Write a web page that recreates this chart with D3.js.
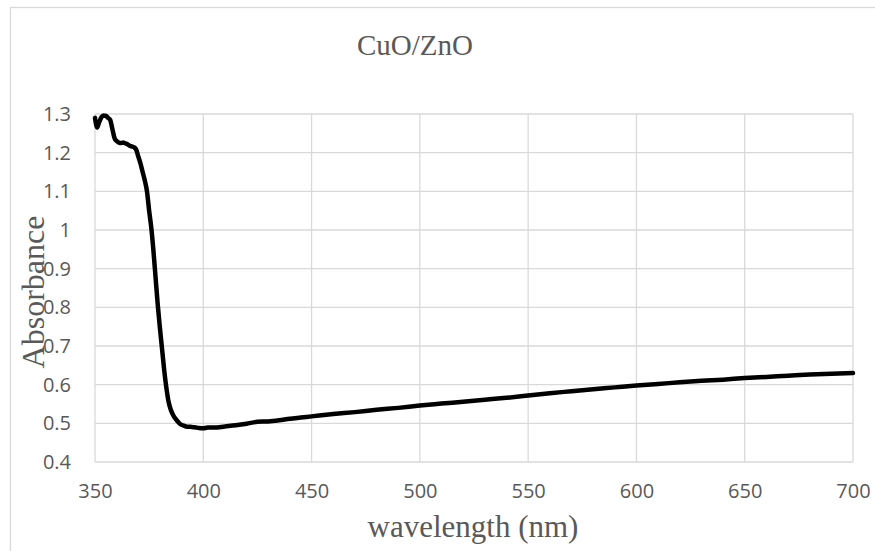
<!DOCTYPE html>
<html>
<head>
<meta charset="utf-8">
<script src="https://cdn.jsdelivr.net/npm/d3@7"></script>
<style>
  html, body { margin: 0; padding: 0; background: #fff; }
  svg { display: block; }
</style>
</head>
<body>
<svg id="chart" width="875" height="551"></svg>
<script>
const chartTitle = "CuO/ZnO";
const xTitle = "wavelength (nm)";
const yTitle = "Absorbance";
const xTicks = [350, 400, 450, 500, 550, 600, 650, 700];
const yTicks = [0.4, 0.5, 0.6, 0.7, 0.8, 0.9, 1.0, 1.1, 1.2, 1.3];

const wavelength = [350,351,352,353,354,355,356,357,358,359,360,361,362,363,364,365,366,367,368,369,
  370,371,372,373,374,375,376,377,378,379,380,381,382,383,384,385,386,387,388,389,390,391,392,394,396,398,
  400,402,405,410,415,420,425,430,435,440,445,450,460,470,480,490,500,510,520,530,540,550,560,570,580,590,
  600,610,620,630,640,650,660,670,680,690,700];
const absorbance = [1.290,1.265,1.280,1.292,1.296,1.295,1.290,1.285,1.262,1.238,1.230,1.226,1.225,1.226,1.224,1.222,1.218,1.216,1.214,1.208,
  1.190,1.172,1.150,1.128,1.100,1.050,1.005,0.945,0.875,0.805,0.745,0.690,0.635,0.590,0.555,0.535,0.522,0.513,0.506,0.500,0.496,0.494,0.492,0.491,0.490,0.488,
  0.487,0.489,0.489,0.492,0.495,0.499,0.504,0.505,0.508,0.512,0.515,0.518,0.524,0.529,0.535,0.540,0.546,0.551,0.556,0.561,0.566,0.572,0.578,0.583,0.588,0.593,
  0.598,0.602,0.606,0.610,0.613,0.617,0.620,0.623,0.626,0.628,0.630];

const svg = d3.select("#chart");
const margin = {left: 95, right: 22, top: 114, bottom: 89};
const W = 875, H = 551;
const x = d3.scaleLinear().domain([350, 700]).range([margin.left, W - margin.right]);
const y = d3.scaleLinear().domain([0.4, 1.3]).range([H - margin.bottom, margin.top]);

const textColor = "#595959";
const gridColor = "#d9d9d9";

// outer chart frame
svg.append("rect")
  .attr("x", 10.5).attr("y", 7.5)
  .attr("width", 1000).attr("height", 1000)
  .attr("fill", "none").attr("stroke", gridColor).attr("stroke-width", 1.3);

// gridlines
svg.append("g").selectAll("line").data(yTicks).join("line")
  .attr("x1", x(350)).attr("x2", x(700))
  .attr("y1", d => y(d)).attr("y2", d => y(d))
  .attr("stroke", gridColor).attr("stroke-width", 1.3);
svg.append("g").selectAll("line").data(xTicks).join("line")
  .attr("x1", d => x(d)).attr("x2", d => x(d))
  .attr("y1", y(0.4)).attr("y2", y(1.3))
  .attr("stroke", gridColor).attr("stroke-width", 1.3);

// axes (tick labels only)
const xAxis = d3.axisBottom(x).tickValues(xTicks).tickSize(0).tickPadding(22).tickFormat(d3.format("d"));
const gx = svg.append("g").attr("transform", `translate(0,${y(0.4)})`).call(xAxis);
gx.select(".domain").remove();
gx.selectAll("text").attr("font-family", "'Open Sans', sans-serif").attr("font-size", 20).attr("fill", textColor);

const yAxis = d3.axisLeft(y).tickValues(yTicks).tickSize(0).tickPadding(24).tickFormat(d => d3.format("")(+d.toFixed(1)));
const gy = svg.append("g").attr("transform", `translate(${x(350)},0)`).call(yAxis);
gy.select(".domain").remove();
gy.selectAll("text").attr("font-family", "'Open Sans', sans-serif").attr("font-size", 20).attr("fill", textColor);

// data line
const line = d3.line().x((d, i) => x(wavelength[i])).y(d => y(d)).curve(d3.curveMonotoneX);
svg.append("path")
  .datum(absorbance)
  .attr("d", line)
  .attr("fill", "none")
  .attr("stroke", "#000")
  .attr("stroke-width", 4.5)
  .attr("stroke-linejoin", "round")
  .attr("stroke-linecap", "round");

// titles
svg.append("text")
  .attr("x", 415).attr("y", 55)
  .attr("text-anchor", "middle")
  .attr("font-family", "'Liberation Serif', 'Times New Roman', serif")
  .attr("font-size", 29).attr("fill", textColor)
  .text(chartTitle);

svg.append("text")
  .attr("x", 473).attr("y", 537)
  .attr("text-anchor", "middle")
  .attr("font-family", "'Liberation Serif', 'Times New Roman', serif")
  .attr("font-size", 31).attr("fill", textColor)
  .text(xTitle);

svg.append("text")
  .attr("transform", "translate(44,292) rotate(-90)")
  .attr("text-anchor", "middle")
  .attr("font-family", "'Liberation Serif', 'Times New Roman', serif")
  .attr("font-size", 32).attr("fill", textColor)
  .text(yTitle);
</script>
</body>
</html>
